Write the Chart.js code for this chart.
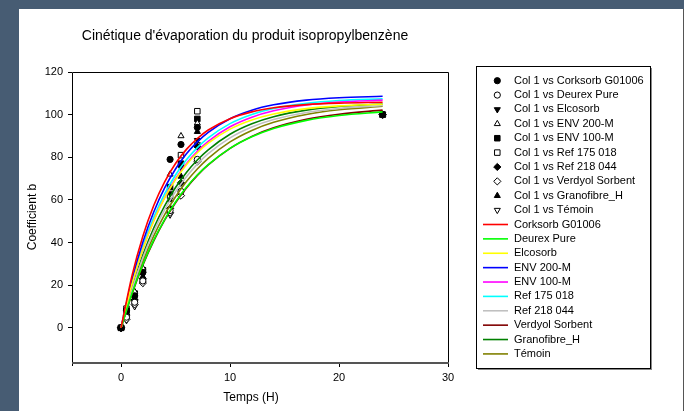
<!DOCTYPE html>
<html><head><meta charset="utf-8">
<script src="https://cdn.jsdelivr.net/npm/chart.js@4.4.0/dist/chart.umd.min.js"></script>
<style>
html,body{margin:0;padding:0;background:#475c73;overflow:hidden}
#wrap{position:absolute;left:0;top:0;width:684px;height:411px}
</style>
</head><body>
<div id="wrap"><canvas id="c" width="684" height="411"></canvas></div>
<script>
// ---- data ----
const titleText = "Cinétique d'évaporation du produit isopropylbenzène";
const xTitle = "Temps (H)";
const yTitle = "Coefficient b";
const xTicks = [0, 10, 20, 30];
const yTicks = [0, 20, 40, 60, 80, 100, 120];

const products = ["Corksorb G01006","Deurex Pure","Elcosorb","ENV 200-M","ENV 100-M","Ref 175 018","Ref 218 044","Verdyol Sorbent","Granofibre_H","Témoin"];
const lineColors = ["#ff0000","#00ff00","#ffff00","#0000ff","#ff00ff","#00ffff","#c0c0c0","#800000","#008000","#808000"];

const sampleTimes = [0, 0.5, 1.25, 2, 4.5, 5.5, 7, 24];
const ptsCorksorb   = [0, 8, 15, 26, 79, 86, 94, 100];
const ptsDeurex     = [0, 5, 12, 22, 55, 64, 79, 100];
const ptsElcosorb   = [0, 7, 14, 25, 63, 75, 88, 100];
const ptsEnv200     = [0, 9, 17, 28, 72, 90, 96, 100];
const ptsEnv100     = [0, 8, 16, 27, 66, 77, 98, 100];
const ptsRef175     = [0, 9, 16, 27, 62, 81, 101.6, 100];
const ptsRef218     = [0, 6, 13, 23, 56, 68, 85, 100];
const ptsVerdyol    = [0, 4, 11, 21, 54, 62, 78, 100];
const ptsGranofibre = [0, 7, 14, 24, 60, 71, 92, 100];
const ptsTemoin     = [0, 3.5, 10, 21, 53, 64, 86, 100];

const curveTimes = [0, 1, 2, 3, 4, 5, 6, 7, 8, 10, 12, 14, 17, 20, 24];
const fitCorksorb   = [0,24.3,43.0,57.4,68.5,77.1,83.7,88.8,92.8,98.1,101.3,103.2,104.7,105.4,105.8];
const fitDeurex     = [0,16.1,29.7,41.1,50.8,59.0,65.9,71.7,76.6,84.2,89.6,93.5,97.3,99.6,101.3];
const fitElcosorb   = [0,20.4,36.9,50.1,60.9,69.5,76.5,82.1,86.6,93.2,97.5,100.3,102.8,104.1,104.9];
const fitEnv200     = [0,22.4,40.2,54.3,65.6,74.5,81.6,87.2,91.7,98.1,102.1,104.6,106.8,107.9,108.6];
const fitEnv100     = [0,20.4,36.9,50.2,61.1,69.9,77.0,82.8,87.5,94.3,98.8,101.8,104.5,105.9,106.8];
const fitRef175     = [0,21.2,38.2,51.8,62.8,71.7,78.8,84.5,89.1,95.8,100.1,102.9,105.3,106.6,107.4];
const fitRef218     = [0,17.9,32.8,45.1,55.4,63.9,70.9,76.8,81.7,89.1,94.2,97.7,101.0,102.9,104.3];
const fitVerdyol    = [0,15.9,29.4,40.8,50.5,58.7,65.6,71.5,76.4,84.2,89.8,93.8,97.8,100.2,102.1];
const fitGranofibre = [0,18.7,34.1,46.8,57.2,65.8,72.9,78.7,83.5,90.8,95.7,99.0,102.1,103.8,105.0];
const fitTemoin     = [0,16.9,31.2,43.1,53.1,61.5,68.6,74.5,79.5,87.2,92.6,96.4,100.1,102.3,103.9];

// marker styles: [pointStyle, rotation, filled]
const markerStyles = [
  ["circle",0,true],["circle",0,false],["triangle",180,true],["triangle",0,false],["rect",0,true],
  ["rect",0,false],["rectRot",0,true],["rectRot",0,false],["triangle",0,true],["triangle",180,false]
];

const allPts = [ptsCorksorb,ptsDeurex,ptsElcosorb,ptsEnv200,ptsEnv100,ptsRef175,ptsRef218,ptsVerdyol,ptsGranofibre,ptsTemoin];
const allFits = [fitCorksorb,fitDeurex,fitElcosorb,fitEnv200,fitEnv100,fitRef175,fitRef218,fitVerdyol,fitGranofibre,fitTemoin];

const FONT = "'Liberation Sans', Arial, sans-serif";
function radiusFor(style){ return style==="rect" ? 3.9 : (style==="rectRot" ? 3.6 : (style==="triangle"?3.5:3.1)); }

const datasets = [];
allPts.forEach((arr,i)=>{
  const [ps,rot,filled] = markerStyles[i];
  datasets.push({
    type:'scatter', label:"Col 1 vs "+products[i],
    data: sampleTimes.map((t,j)=>({x:t,y:arr[j]})),
    pointStyle: ps, rotation: rot, radius: radiusFor(ps),
    backgroundColor: filled ? "#000" : "#fff", borderColor:"#000", borderWidth:1,
    order: 2
  });
});
allFits.forEach((arr,i)=>{
  datasets.push({
    type:'line', label:products[i],
    data: curveTimes.map((t,j)=>({x:t,y:arr[j]})),
    borderColor: lineColors[i], borderWidth:1.6, pointRadius:0, fill:false,
    cubicInterpolationMode:'monotone', order: 1
  });
});

const bgPlugin = {
  id:'bg',
  beforeDraw(chart){
    const ctx = chart.ctx;
    ctx.save();
    ctx.fillStyle = "#475c73"; ctx.fillRect(0,0,684,411);
    ctx.fillStyle = "#ffffff"; ctx.fillRect(19,9,664,402);
    ctx.fillStyle = "#555"; ctx.fillRect(683,9,1,402);
    ctx.restore();
  }
};

const decoPlugin = {
  id:'deco',
  afterDraw(chart){
    const ctx = chart.ctx, a = chart.chartArea;
    ctx.save();
    // frame
    ctx.strokeStyle="#000"; ctx.lineWidth=1;
    ctx.beginPath();
    ctx.moveTo(a.left+0.5, a.bottom+3); ctx.lineTo(a.left+0.5, a.top+0.5);
    ctx.lineTo(a.right+0.5, a.top+0.5); ctx.lineTo(a.right+0.5, a.bottom);
    ctx.stroke();
    ctx.strokeStyle="#555"; ctx.lineWidth=2;
    ctx.beginPath(); ctx.moveTo(a.left, a.bottom); ctx.lineTo(a.right+1, a.bottom); ctx.stroke();
    // texts
    ctx.fillStyle="#000"; ctx.textBaseline="middle"; ctx.textAlign="center";
    ctx.font = "14px "+FONT;
    ctx.fillText(titleText, 245, 36);
    ctx.font = "12px "+FONT;
    ctx.fillText(xTitle, 251, 398);
    ctx.save(); ctx.translate(33, 217); ctx.rotate(-Math.PI/2); ctx.fillText(yTitle, 0, 0); ctx.restore();
    // legend box
    const bx=476, by=66, bw=174, bh=302;
    ctx.fillStyle="#888"; ctx.fillRect(bx+bw, by+2, 2, bh); ctx.fillRect(bx+2, by+bh, bw, 2);
    ctx.strokeStyle="#000"; ctx.lineWidth=1; ctx.strokeRect(bx+0.5, by+0.5, bw, bh);
    ctx.font = "11px "+FONT; ctx.textAlign="left"; ctx.textBaseline="middle";
    const y0=80.7, dy=14.38;
    chart.data.datasets.forEach((ds,i)=>{
      const y = y0 + i*dy;
      if(ds.type==='scatter'){
        const opts = {pointStyle:ds.pointStyle, rotation:ds.rotation, radius:ds.radius, borderWidth:1};
        ctx.fillStyle = ds.backgroundColor; ctx.strokeStyle="#000"; ctx.lineWidth=1;
        Chart.helpers.drawPoint(ctx, opts, 497.3, y);
      } else {
        ctx.strokeStyle = ds.borderColor; ctx.lineWidth=1.6;
        ctx.beginPath(); ctx.moveTo(483, y); ctx.lineTo(508, y); ctx.stroke();
      }
      ctx.fillStyle="#000";
      ctx.fillText(ds.label, 514, y);
    });
    ctx.restore();
  }
};

new Chart(document.getElementById('c'), {
  type:'scatter',
  data:{datasets},
  options:{
    responsive:false, animation:false, devicePixelRatio:1,
    layout:{padding:{left:0, top:72, right:684-448, bottom:0}},
    plugins:{legend:{display:false}, tooltip:{enabled:false}, title:{display:false}},
    scales:{
      x:{type:'linear', min:-4.5, max:30,
        afterBuildTicks(s){ s.ticks = xTicks.map(v=>({value:v})); },
        afterFit(s){ s.height = 411-363; },
        grid:{drawOnChartArea:false, drawTicks:true, tickLength:4, color:'#000', tickColor:'#000'},
        border:{display:false},
        ticks:{color:'#000', font:{family:FONT, size:11}, padding:4, maxRotation:0, autoSkip:false, callback:v=>String(v)}
      },
      y:{type:'linear', min:-16.5, max:120,
        afterBuildTicks(s){ s.ticks = yTicks.map(v=>({value:v})); },
        afterFit(s){ s.width = 72; },
        grid:{drawOnChartArea:false, drawTicks:true, tickLength:4, color:'#000', tickColor:'#000'},
        border:{display:false},
        ticks:{color:'#000', font:{family:FONT, size:11}, padding:5, autoSkip:false, callback:v=>String(v)}
      }
    }
  },
  plugins:[bgPlugin, decoPlugin]
});
</script>
</body></html>
